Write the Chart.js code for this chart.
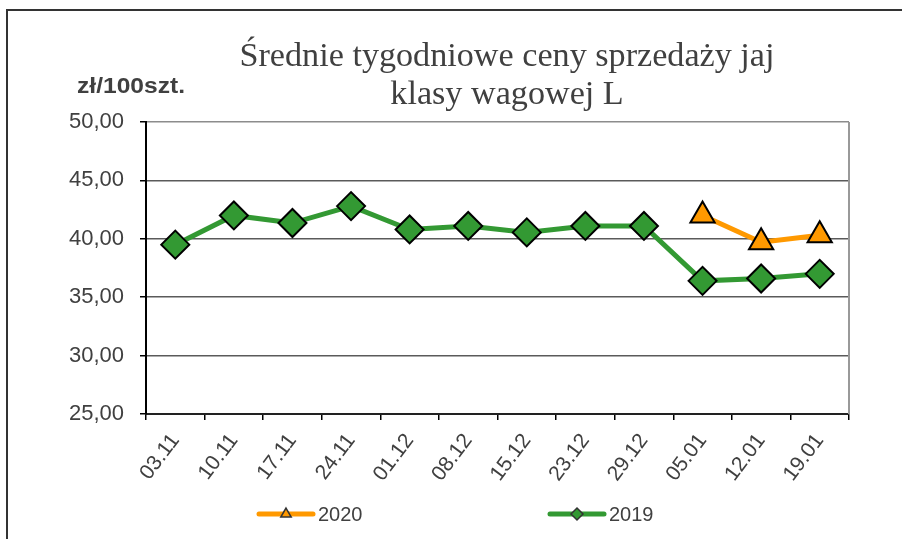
<!DOCTYPE html>
<html lang="pl">
<head>
<meta charset="utf-8">
<title>Średnie tygodniowe ceny sprzedaży jaj klasy wagowej L</title>
<script src="https://cdn.jsdelivr.net/npm/chart.js@4.4.0/dist/chart.umd.min.js"></script>
<style>
  html, body { margin: 0; padding: 0; background: #fff; }
  canvas { display: block; }
</style>
</head>
<body>
<canvas id="wykres" width="902" height="539"></canvas>
<script>
// Dane
var tygodnie = ['03.11', '10.11', '17.11', '24.11', '01.12', '08.12', '15.12', '23.12', '29.12', '05.01', '12.01', '19.01'];
var ceny2020 = [null, null, null, null, null, null, null, null, null, 42.0, 39.7, 40.3];
var ceny2019 = [39.5, 42.0, 41.35, 42.8, 40.8, 41.1, 40.55, 41.1, 41.1, 36.4, 36.6, 37.0];
var skalaY = [25, 50, 5]; // min, max, krok
var tytul = ['Średnie tygodniowe ceny sprzedaży jaj', 'klasy wagowej L'];
var jednostka = 'zł/100szt.';

var kolorTekstu = '#404040';
var zielony = '#339933';
var pomaranczowy = '#ff9900';

// Ramka, tytuł, jednostka i legenda rysowane ręcznie
var dodatki = {
    id: 'dodatki',
    beforeDraw: function(chart) {
        var ctx = chart.ctx;
        ctx.save();
        ctx.fillStyle = '#fff';
        ctx.fillRect(0, 0, chart.width, chart.height);
        ctx.strokeStyle = '#333';
        ctx.lineWidth = 2;
        ctx.beginPath();
        ctx.moveTo(7, chart.height);
        ctx.lineTo(7, 10);
        ctx.lineTo(chart.width, 10);
        ctx.stroke();
        ctx.restore();
    },
    afterDraw: function(chart) {
        var ctx = chart.ctx;
        var obszar = chart.chartArea;
        ctx.save();

        // prawa krawędź obszaru wykresu
        ctx.strokeStyle = '#999';
        ctx.lineWidth = 2;
        ctx.beginPath();
        ctx.moveTo(obszar.right, obszar.top);
        ctx.lineTo(obszar.right, obszar.bottom);
        ctx.stroke();

        // tytuł (wąska czcionka szeryfowa)
        ctx.fillStyle = kolorTekstu;
        ctx.font = '34px "Liberation Serif"';
        ctx.textAlign = 'center';
        ctx.textBaseline = 'alphabetic';
        var sx = 535 / ctx.measureText(tytul[0]).width;
        for (var i = 0; i < tytul.length; i++) {
            ctx.save();
            ctx.translate(507, 66 + i * 38);
            ctx.scale(sx, 1);
            ctx.fillText(tytul[i], 0, 0);
            ctx.restore();
        }

        // jednostka
        ctx.font = 'bold 22px "Liberation Sans"';
        ctx.textAlign = 'left';
        var sj = 108 / ctx.measureText(jednostka).width;
        ctx.save();
        ctx.translate(77, 93);
        ctx.scale(sj, 1);
        ctx.fillText(jednostka, 0, 0);
        ctx.restore();

        // legenda
        var pozycje = [
            { x: 259, kolor: pomaranczowy, styl: 'triangle', r: 6, tekst: '2020' },
            { x: 550, kolor: zielony, styl: 'rectRot', r: 6, tekst: '2019' }
        ];
        var y = 514;
        pozycje.forEach(function(p) {
            ctx.strokeStyle = p.kolor;
            ctx.lineWidth = 5;
            ctx.lineCap = 'round';
            ctx.beginPath();
            ctx.moveTo(p.x, y);
            ctx.lineTo(p.x + 54, y);
            ctx.stroke();
            ctx.fillStyle = p.kolor;
            ctx.strokeStyle = '#333';
            ctx.lineWidth = 1.5;
            Chart.helpers.drawPoint(ctx, { pointStyle: p.styl, radius: p.r, borderWidth: 1.5, rotation: 0 }, p.x + 27, y);
            ctx.fillStyle = kolorTekstu;
            ctx.font = '20px "Liberation Sans"';
            ctx.textAlign = 'left';
            ctx.textBaseline = 'middle';
            ctx.fillText(p.tekst, p.x + 59, y + 1);
        });
        ctx.restore();
    }
};

var ctx = document.getElementById('wykres').getContext('2d');
var wykres = new Chart(ctx, {
    type: 'line',
    data: {
        labels: tygodnie,
        datasets: [{
            label: '2020',
            data: ceny2020,
            borderColor: pomaranczowy,
            backgroundColor: pomaranczowy,
            borderWidth: 5,
            pointStyle: 'triangle',
            pointRadius: 14,
            pointBorderColor: '#000',
            pointBorderWidth: 2,
            pointBackgroundColor: pomaranczowy
        }, {
            label: '2019',
            data: ceny2019,
            borderColor: zielony,
            backgroundColor: zielony,
            borderWidth: 5,
            pointStyle: 'rectRot',
            pointRadius: 14,
            pointBorderColor: '#000',
            pointBorderWidth: 2,
            pointBackgroundColor: zielony
        }]
    },
    options: {
        responsive: false,
        animation: false,
        layout: { padding: { left: 0, top: 122, right: 53, bottom: 0 } },
        elements: { line: { tension: 0 } },
        plugins: {
            legend: { display: false },
            title: { display: false },
            tooltip: { enabled: false }
        },
        scales: {
            x: {
                offset: true,
                grid: { offset: true, drawOnChartArea: false, tickLength: 6, tickColor: '#000', lineWidth: 1.5 },
                border: { color: '#222', width: 2 },
                ticks: {
                    color: kolorTekstu,
                    font: { family: 'Liberation Sans', size: 21 },
                    minRotation: 53,
                    maxRotation: 53,
                    autoSkip: false,
                    padding: 9
                },
                afterFit: function(scale) { scale.height = 539 - 414; }
            },
            y: {
                min: skalaY[0],
                max: skalaY[1],
                grid: {
                    color: function(c) { return c.tick && c.tick.value === skalaY[1] ? '#8c8c8c' : '#5a5a5a'; },
                    lineWidth: 1.5,
                    tickLength: 6,
                    tickColor: '#000'
                },
                border: { color: '#000', width: 2 },
                ticks: {
                    stepSize: skalaY[2],
                    color: kolorTekstu,
                    font: { family: 'Liberation Sans', size: 22 },
                    padding: 16,
                    callback: function(v) { return v.toFixed(2).replace('.', ','); }
                },
                afterFit: function(scale) { scale.width = 146; }
            }
        }
    },
    plugins: [dodatki]
});
</script>
</body>
</html>
